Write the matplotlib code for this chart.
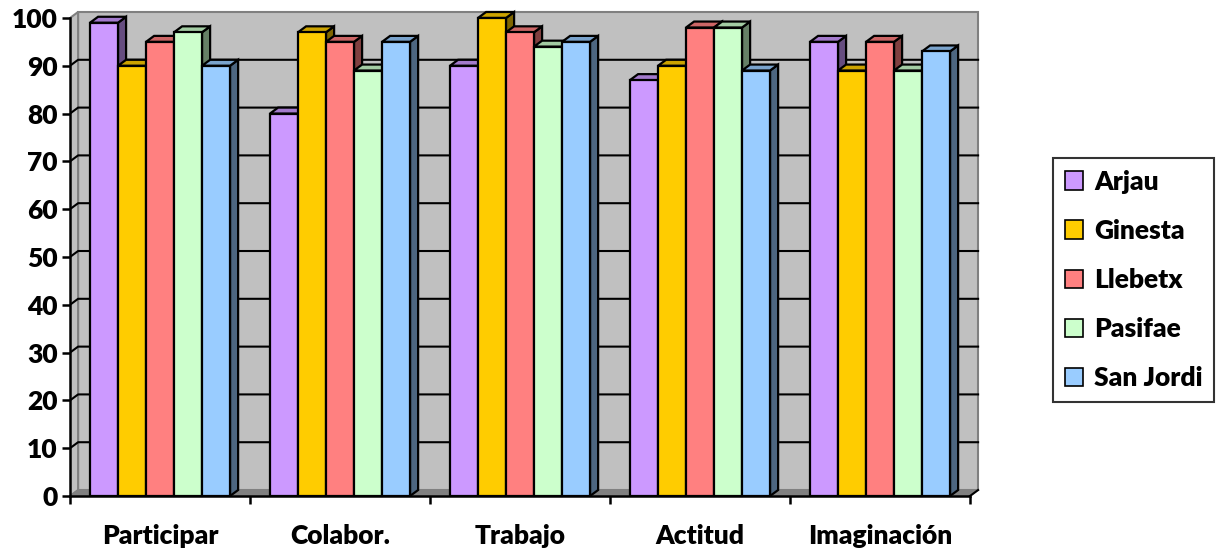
import numpy as np
import matplotlib.pyplot as plt
from matplotlib.patches import Polygon, Patch
from matplotlib.colors import to_rgb

plt.rcParams['font.family'] = ['Lato', 'DejaVu Sans']
plt.rcParams['font.weight'] = 'heavy'

categories = ['Participar', 'Colabor.', 'Trabajo', 'Actitud', 'Imaginación']
series = ['Arjau', 'Ginesta', 'Llebetx', 'Pasifae', 'San Jordi']
arjau = [99, 80, 90, 87, 95]
ginesta = [90, 97, 100, 90, 89]
llebetx = [95, 95, 97, 98, 95]
pasifae = [97, 89, 94, 98, 89]
san_jordi = [90, 95, 95, 89, 93]
values = [arjau, ginesta, llebetx, pasifae, san_jordi]
colors = ['#CC99FF', '#FFCC00', '#FF8080', '#CCFFCC', '#99CCFF']
yticks = list(range(0, 101, 10))

# 3D look: depth offset in data units
dx, dy = 0.045, 1.25
gap = 0.111
bw = (1 - 2 * gap) / len(series)
fs = 19


def shade(c, f):
    r, g, b = to_rgb(c)
    return (r * f, g * f, b * f)


fig = plt.figure(figsize=(12.22, 5.55), dpi=100)
ax = fig.add_axes([70 / 1222, 59 / 555, 918 / 1222, 487.6 / 555])
n = len(categories)
ax.set_xlim(0, n + 0.1)
ax.set_ylim(0, 102)

wall = '#C0C0C0'
edge_gray = '#808080'
# back wall, left wall, floor
ax.add_patch(Polygon([(dx, dy), (n + dx, dy), (n + dx, 100 + dy), (dx, 100 + dy)],
                     closed=True, fc=wall, ec=edge_gray, lw=1.5, zorder=1))
ax.add_patch(Polygon([(0, 0), (dx, dy), (dx, 100 + dy), (0, 100)],
                     closed=True, fc=wall, ec=edge_gray, lw=1.5, zorder=1))
ax.add_patch(Polygon([(0, 0), (n, 0), (n + dx, dy), (dx, dy)],
                     closed=True, fc=edge_gray, ec=edge_gray, lw=1, zorder=1))

# gridlines on walls
for v in yticks[1:-1]:
    ax.plot([0, dx, n + dx], [v, v + dy, v + dy], color='black', lw=1.5, zorder=2)

# bars
for i in range(n):
    for j, s in enumerate(series):
        v = values[j][i]
        x = i + gap + j * bw
        c = colors[j]
        ax.add_patch(Polygon([(x + bw, 0), (x + bw + dx, dy), (x + bw + dx, v + dy), (x + bw, v)],
                             closed=True, fc=shade(c, 0.5), ec='black', lw=1.6, zorder=3))
        ax.add_patch(Polygon([(x, v), (x + bw, v), (x + bw + dx, v + dy), (x + dx, v + dy)],
                             closed=True, fc=shade(c, 0.8), ec='black', lw=1.6, zorder=3))
        ax.add_patch(Polygon([(x, 0), (x + bw, 0), (x + bw, v), (x, v)],
                             closed=True, fc=c, ec='black', lw=1.6, zorder=3))

# axes
for sp in ['top', 'right']:
    ax.spines[sp].set_visible(False)
ax.spines['left'].set_bounds(0, 100)
ax.spines['bottom'].set_bounds(0, n)
ax.spines['left'].set_linewidth(1.8)
ax.spines['bottom'].set_linewidth(1.8)
ax.spines['left'].set_zorder(4)
ax.spines['bottom'].set_zorder(4)
ax.plot([n, n + dx], [0, dy], color='black', lw=1.5, zorder=4, clip_on=False)

ax.set_yticks(yticks)
ax.set_yticklabels([str(t) for t in yticks], fontsize=fs, fontweight='heavy')
ax.tick_params(axis='y', direction='out', length=6, width=1.8, pad=3)

ax.set_xticks(np.arange(n + 1))
ax.set_xticklabels([])
ax.tick_params(axis='x', which='major', direction='out', length=6, width=1.8)
ax.set_xticks(np.arange(n) + 0.5, minor=True)
ax.set_xticklabels(categories, minor=True, fontsize=fs, fontweight='heavy')
ax.tick_params(axis='x', which='minor', length=0, pad=20)

handles = [Patch(fc=c, ec='black', lw=1.2) for c in colors]
leg = fig.legend(handles, series, loc='upper left', bbox_to_anchor=(1053 / 1222, 1 - 158 / 555),
                 fontsize=fs, frameon=True, fancybox=False, edgecolor='black',
                 handlelength=0.7, handleheight=0.7, handletextpad=0.4,
                 labelspacing=0.95, borderpad=0.45, borderaxespad=0)
leg.get_frame().set_linewidth(1.5)
for t in leg.get_texts():
    t.set_fontweight('heavy')

fig.savefig('out.png', dpi=100)
